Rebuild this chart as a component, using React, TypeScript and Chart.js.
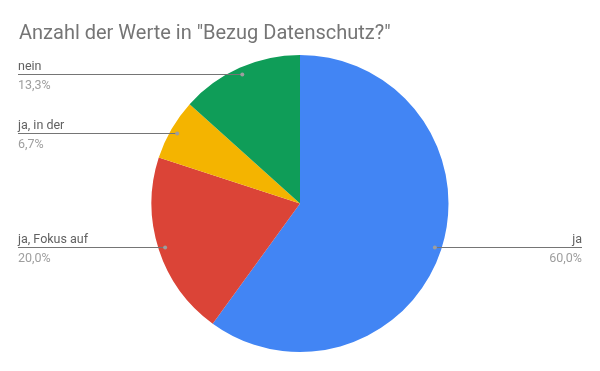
import React, { useEffect, useRef } from "react";
import { Chart, registerables } from "chart.js";

Chart.register(...registerables);

const titleText = 'Anzahl der Werte in "Bezug Datenschutz?"';
const categories = ["ja", "ja, Fokus auf", "ja, in der", "nein"];
const counts = [9, 3, 1, 2];
const sliceColors = ["#4285F4", "#DB4437", "#F4B400", "#0F9D58"];

const FONT = "Roboto, 'Noto Sans', Arial, sans-serif";

const labelPlugin = {
  id: "gLabels",
  afterDraw(chart: any) {
    const ctx = chart.ctx as CanvasRenderingContext2D;
    ctx.save();
    // title
    ctx.fillStyle = "#757575";
    ctx.font = `20px ${FONT}`;
    ctx.textAlign = "left";
    ctx.textBaseline = "alphabetic";
    ctx.fillText(titleText, 19, 38.5);

    const meta = chart.getDatasetMeta(0);
    const data = chart.data.datasets[0].data as number[];
    const total = data.reduce((a, b) => a + b, 0);
    meta.data.forEach((arc: any, i: number) => {
      const p = arc.getProps(["x", "y", "startAngle", "endAngle", "outerRadius"], true);
      const mid = (p.startAngle + p.endAngle) / 2;
      const rr = p.outerRadius * 0.955;
      const px = p.x + Math.cos(mid) * rr;
      const py = Math.round(p.y + Math.sin(mid) * rr) + 0.5;
      const left = Math.cos(mid) < 0;
      const edge = left ? 18 : 582;
      ctx.strokeStyle = "#757575";
      ctx.lineWidth = 1;
      ctx.beginPath();
      ctx.moveTo(px, py);
      ctx.lineTo(edge, py);
      ctx.stroke();
      ctx.fillStyle = "#9e9e9e";
      ctx.beginPath();
      ctx.arc(px, py, 2, 0, Math.PI * 2);
      ctx.fill();
      ctx.textAlign = left ? "left" : "right";
      ctx.font = `12.5px ${FONT}`;
      ctx.fillStyle = "#616161";
      ctx.fillText(String(chart.data.labels[i]), edge, py - 4.5);
      const pct = ((data[i] / total) * 100).toFixed(1).replace(".", ",") + "%";
      ctx.fillStyle = "#9e9e9e";
      ctx.fillText(pct, edge, py + 14);
    });
    ctx.restore();
  },
};

export default function App() {
  const ref = useRef<HTMLCanvasElement | null>(null);
  useEffect(() => {
    if (!ref.current) return;
    const chart = new Chart(ref.current, {
      type: "pie",
      data: {
        labels: categories,
        datasets: [
          {
            data: counts,
            backgroundColor: sliceColors,
            borderWidth: 0,
          },
        ],
      },
      options: {
        animation: false,
        responsive: false,
        maintainAspectRatio: false,
        layout: { padding: { top: 55, bottom: 19, left: 100, right: 100 } },
        plugins: {
          legend: { display: false },
          tooltip: { enabled: false },
          title: { display: false },
        },
      },
      plugins: [labelPlugin],
    });
    return () => chart.destroy();
  }, []);
  return (
    <div style={{ position: "absolute", left: 0, top: 0, width: 600, height: 371, background: "#fff" }}>
      <canvas ref={ref} width={600} height={371} />
    </div>
  );
}
